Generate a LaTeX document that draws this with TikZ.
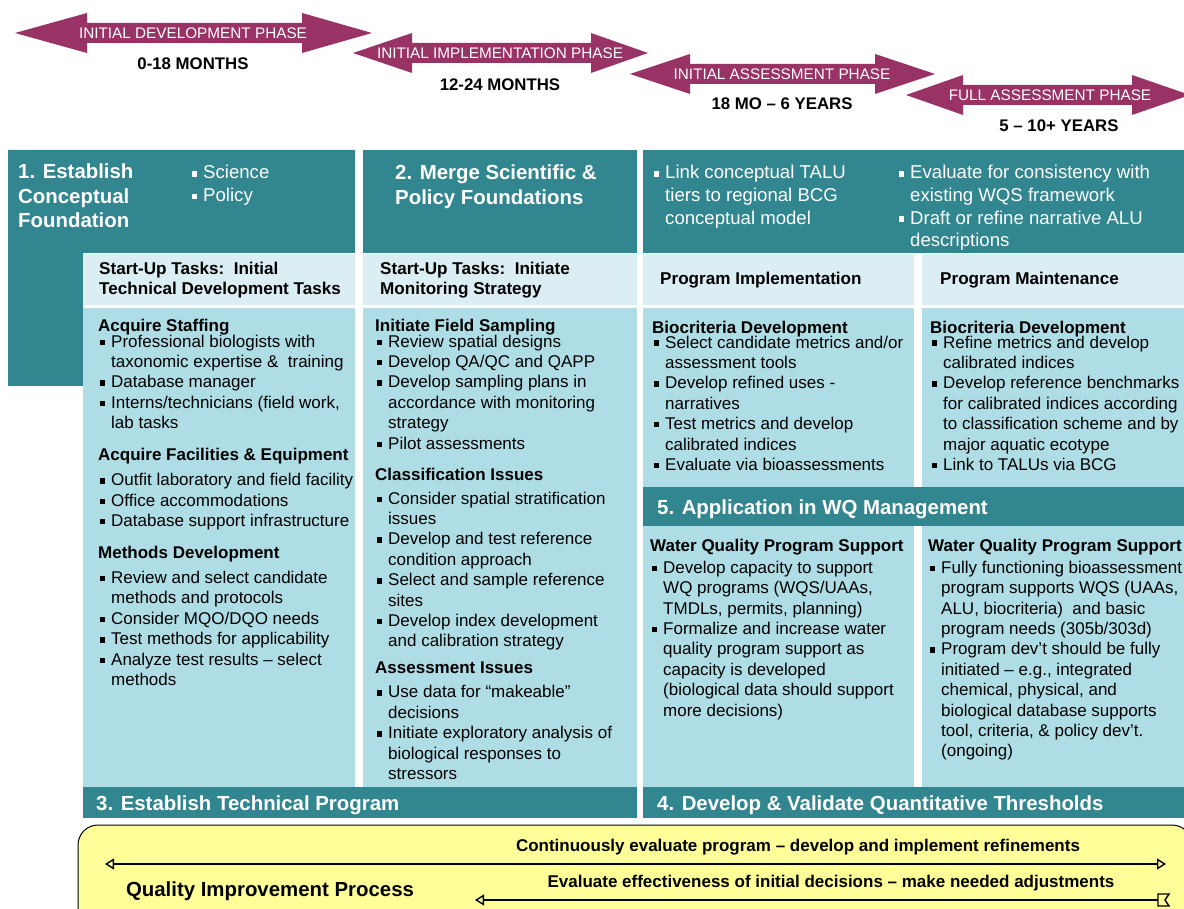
\documentclass[tikz,border=0pt]{standalone}
\usepackage{fontspec}
\setmainfont{Liberation Sans}
\usepackage{tikz}
\usetikzlibrary{arrows.meta}

\definecolor{tealbar}{RGB}{49,134,143}
\definecolor{hdrblue}{RGB}{219,238,243}
\definecolor{bodyblue}{RGB}{174,221,229}
\definecolor{phasecol}{RGB}{153,51,102}
\definecolor{qiyellow}{RGB}{255,255,153}

\newcommand{\bu}{\makebox[13pt][l]{\hspace{1.5pt}\rule[2.2pt]{5.4pt}{5.4pt}}}
\newcommand{\ci}{\hspace*{13pt}}
\newcommand{\hd}[1]{\textbf{#1}}
% left tip, left base, right base, right tip, y
\newcommand{\phasearrow}[5]{%
  \fill[phasecol] (#1,#5) -- (#2,{#5-20}) -- (#2,{#5-10}) -- (#3,{#5-10}) -- (#3,{#5-20})
    -- (#4,#5) -- (#3,{#5+20}) -- (#3,{#5+10}) -- (#2,{#5+10}) -- (#2,{#5+20}) -- cycle;}

% text blocks are placed at the baseline of their first line
\tikzset{
  firstbase/.style={anchor=north west, align=left, inner sep=0pt,
    yshift=0.7*#1-2pt, execute at begin node=\strut},
  tealtitle/.style={firstbase=24.5pt, text=white,
    font=\fontsize{20.4}{24.5}\selectfont\bfseries},
  tealbullets/.style={firstbase=22.6pt, text=white,
    font=\fontsize{18.6}{22.6}\selectfont},
  hdrtxt/.style={firstbase=20pt, font=\fontsize{17.1}{20}\selectfont\bfseries},
  bodytxt/.style={firstbase=20.4pt, font=\fontsize{17}{20.4}\selectfont},
  phasetxt/.style={text=white, inner sep=0pt, font=\fontsize{15.3}{18}\selectfont},
  monthtxt/.style={inner sep=0pt, font=\fontsize{16.8}{20}\selectfont\bfseries},
  qitxt/.style={inner sep=0pt, font=\fontsize{17}{20}\selectfont\bfseries},
  qiline/.style={line width=1.8pt},
  opentip/.tip={Triangle[open,length=9pt,width=11pt,line width=1.4pt]}
}

\begin{document}
\begin{tikzpicture}[x=1pt,y=-1pt]
\useasboundingbox (0,0) rectangle (1184,909);
\clip (0,0) rectangle (1184,909);

% phase arrows
\phasearrow{15}{87}{302}{372}{33}
\phasearrow{353}{412}{591}{648}{53}
\phasearrow{630}{690}{875}{935}{74}
\phasearrow{906}{963}{1132}{1190}{95}
\node[phasetxt] (ph1) at (193,33) {INITIAL DEVELOPMENT PHASE};
\node[phasetxt] (ph2) at (500,53) {INITIAL IMPLEMENTATION PHASE};
\node[phasetxt] (ph3) at (782,74) {INITIAL ASSESSMENT PHASE};
\node[phasetxt] (ph4) at (1050,95) {FULL ASSESSMENT PHASE};
\node[monthtxt] (mo1) at (193,64) {0-18 MONTHS};
\node[monthtxt] (mo2) at (500,85) {12-24 MONTHS};
\node[monthtxt] (mo3) at (782,104) {18 MO -- 6 YEARS};
\node[monthtxt] (mo4) at (1059,126) {5 -- 10+ YEARS};

% boxes
\fill[tealbar] (8,150) -- (355,150) -- (355,253) -- (83,253) -- (83,386) -- (8,386) -- cycle;
\fill[tealbar] (363,150) rectangle (637,253);
\fill[tealbar] (643,150) rectangle (1184,253);
\fill[hdrblue] (83,254) rectangle (355,305);
\fill[hdrblue] (363,254) rectangle (637,305);
\fill[hdrblue] (643,254) rectangle (914,305);
\fill[hdrblue] (922,254) rectangle (1184,305);
\fill[bodyblue] (83,308) rectangle (355,787);
\fill[bodyblue] (363,308) rectangle (637,787);
\fill[bodyblue] (643,308) rectangle (914,487);
\fill[bodyblue] (922,308) rectangle (1184,487);
\fill[tealbar] (643,487) rectangle (1184,526);
\fill[bodyblue] (643,526) rectangle (914,787);
\fill[bodyblue] (922,526) rectangle (1184,787);
\fill[tealbar] (83,787) rectangle (637,818);
\fill[tealbar] (643,787) rectangle (1184,818);

% teal titles
\node[tealtitle] (t1) at (18,179) {1. Establish\\Conceptual\\Foundation};
\node[tealbullets] (t1b) at (190,179) {\bu Science\\\bu Policy};
\node[tealtitle] (t2) at (395,180) {2. Merge Scientific \&\\Policy Foundations};
\node[tealbullets] (t2a) at (652,179) {\bu Link conceptual TALU\\\ci tiers to regional BCG\\\ci conceptual model};
\node[tealbullets] (t2b) at (897,179) {\bu Evaluate for consistency with\\\ci existing WQS framework\\
  \bu Draft or refine narrative ALU\\\ci descriptions};
\node[tealtitle] (t5) at (657,512) {5. Application in WQ Management};
\node[tealtitle] (t3) at (96,808) {3. Establish Technical Program};
\node[tealtitle] (t4) at (657,808) {4. Develop \& Validate Quantitative Thresholds};

% column headers
\node[hdrtxt] (h1) at (99,274) {Start-Up Tasks:\ \ Initial\\Technical Development Tasks};
\node[hdrtxt] (h2) at (380,274) {Start-Up Tasks:\ \ Initiate\\Monitoring Strategy};
\node[hdrtxt] (h3) at (660,282) {Program Implementation};
\node[hdrtxt] (h4) at (940,282) {Program Maintenance};

% column bodies
\node[bodytxt] (c1) at (98,331) {\hd{Acquire Staffing}\\[-4.5pt]
  \bu Professional biologists with\\
  \ci taxonomic expertise \&\ \ training\\
  \bu Database manager\\
  \bu Interns/technicians (field work,\\
  \ci lab tasks\\[11.6pt]
  \hd{Acquire Facilities \& Equipment}\\[4.6pt]
  \bu Outfit laboratory and field facility\\
  \bu Office accommodations\\
  \bu Database support infrastructure\\[11.6pt]
  \hd{Methods Development}\\[4.6pt]
  \bu Review and select candidate\\
  \ci methods and protocols\\
  \bu Consider MQO/DQO needs\\
  \bu Test methods for applicability\\
  \bu Analyze test results -- select\\
  \ci methods};
\node[bodytxt] (c2) at (375,331) {\hd{Initiate Field Sampling}\\[-4.5pt]
  \bu Review spatial designs\\
  \bu Develop QA/QC and QAPP\\
  \bu Develop sampling plans in\\
  \ci accordance with monitoring\\
  \ci strategy\\
  \bu Pilot assessments\\[10.6pt]
  \hd{Classification Issues}\\[3.6pt]
  \bu Consider spatial stratification\\
  \ci issues\\
  \bu Develop and test reference\\
  \ci condition approach\\
  \bu Select and sample reference\\
  \ci sites\\
  \bu Develop index development\\
  \ci and calibration strategy\\[6.6pt]
  \hd{Assessment Issues}\\[3.6pt]
  \bu Use data for “makeable”\\
  \ci decisions\\
  \bu Initiate exploratory analysis of\\
  \ci biological responses to\\
  \ci stressors};
\node[bodytxt] (c3) at (652,333) {\hd{Biocriteria Development}\\[-5.6pt]
  \bu Select candidate metrics and/or\\
  \ci assessment tools\\
  \bu Develop refined uses -\\
  \ci narratives\\
  \bu Test metrics and develop\\
  \ci calibrated indices\\
  \bu Evaluate via bioassessments};
\node[bodytxt] (c4) at (930,333) {\hd{Biocriteria Development}\\[-5.6pt]
  \bu Refine metrics and develop\\
  \ci calibrated indices\\
  \bu Develop reference benchmarks\\
  \ci for calibrated indices according\\
  \ci to classification scheme and by\\
  \ci major aquatic ecotype\\
  \bu Link to TALUs via BCG};
\node[bodytxt] (c5) at (650,551) {\hd{Water Quality Program Support}\\[1.6pt]
  \bu Develop capacity to support\\
  \ci WQ programs (WQS/UAAs,\\
  \ci TMDLs, permits, planning)\\
  \bu Formalize and increase water\\
  \ci quality program support as\\
  \ci capacity is developed\\
  \ci (biological data should support\\
  \ci more decisions)};
\node[bodytxt] (c6) at (928,551) {\hd{Water Quality Program Support}\\[1.6pt]
  \bu Fully functioning bioassessment\\
  \ci program supports WQS (UAAs,\\
  \ci ALU, biocriteria)\ \ and basic\\
  \ci program needs (305b/303d)\\
  \bu Program dev’t should be fully\\
  \ci initiated -- e.g., integrated\\
  \ci chemical, physical, and\\
  \ci biological database supports\\
  \ci tool, criteria, \& policy dev’t.\\
  \ci (ongoing)};

% quality improvement process
\draw[fill=qiyellow, line width=1pt, rounded corners=20pt] (78,825) rectangle (1192,940);
\node[qitxt] (qa) at (798,847) {Continuously evaluate program -- develop and implement refinements};
\node[qitxt] (qb) at (831,883) {Evaluate effectiveness of initial decisions -- make needed adjustments};
\node[inner sep=0pt, font=\fontsize{20.4}{24}\selectfont\bfseries] (qip) at (270,891) {Quality Improvement Process};
\coordinate (a1l) at (105,864);
\coordinate (a1r) at (1166,864);
\coordinate (a2l) at (475,900);
\coordinate (a2r) at (1158,900);
\draw[qiline, opentip-opentip] (a1r) -- (a1l);
\draw[qiline, -opentip] (a2r) -- (a2l);
\draw[line width=1.4pt, fill=qiyellow] (a2r) ++(0,-6) -- ++(11,0) -- ++(-4,6) -- ++(4,6) -- ++(-11,0) -- cycle;
\end{tikzpicture}
\end{document}
